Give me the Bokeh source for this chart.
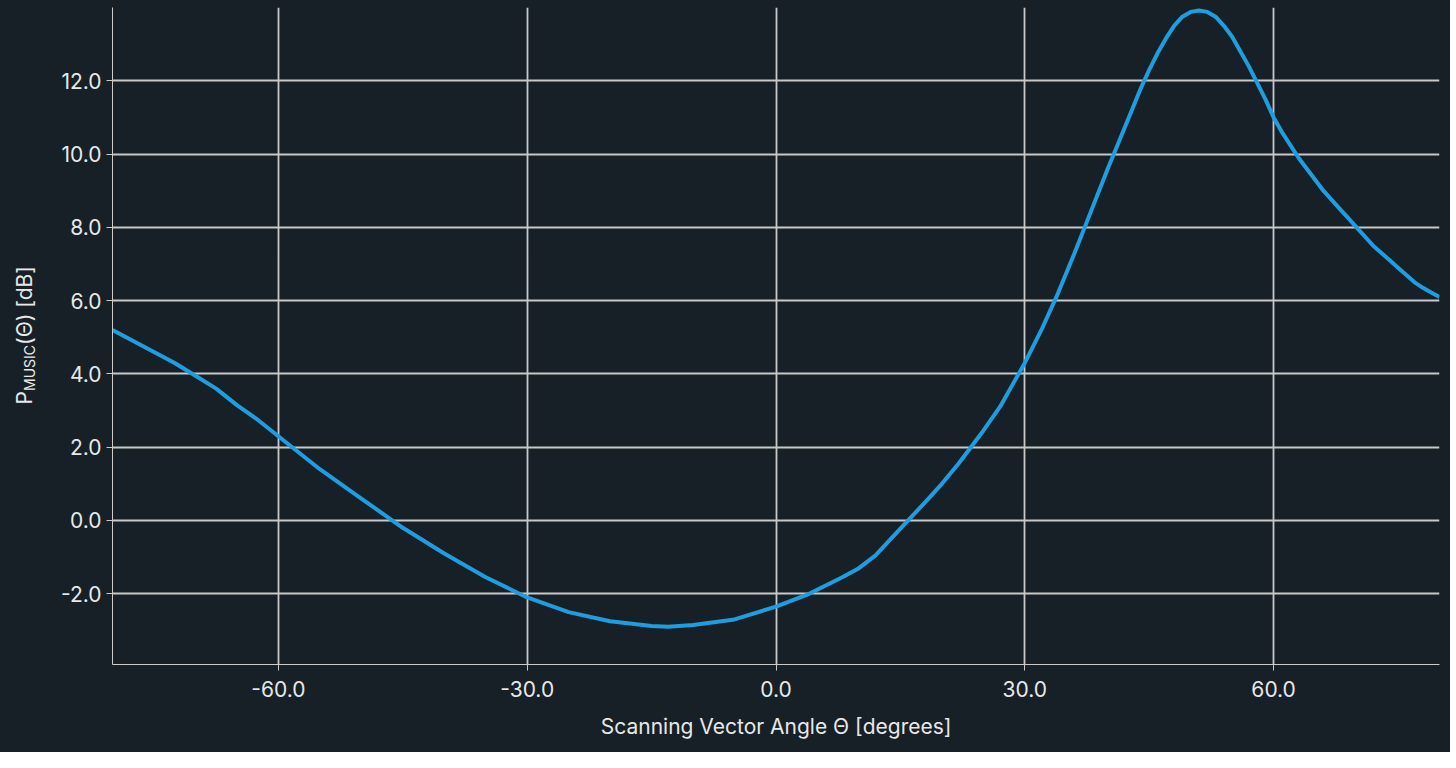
from bokeh.plotting import figure
from bokeh.models import Div, Range1d, FixedTicker
from bokeh.layouts import row
from bokeh.embed import file_html
from bokeh.resources import INLINE

# values
theta = [-80, -77.5, -75, -72.5, -70, -67.5, -65, -62.5, -60, -55, -50, -45, -40, -35, -30,
         -25, -20, -15, -13, -10, -5, 0, 4, 8, 10, 12, 15.5, 18, 20, 22, 25, 27, 30, 32, 34,
         36, 38, 40, 42, 44, 45, 46, 47, 48, 49, 50, 51, 52, 53, 54, 55, 56, 57, 58, 59, 60,
         61, 62, 63, 64, 65, 66, 67, 68, 69, 70, 71, 72, 73, 74, 75, 76, 77, 78, 79, 80]
p_music = [5.2, 4.9, 4.6, 4.3, 3.95, 3.6, 3.15, 2.75, 2.3, 1.4, 0.6, -0.2, -0.9, -1.55, -2.1,
           -2.5, -2.75, -2.88, -2.9, -2.85, -2.7, -2.35, -2.0, -1.55, -1.3, -0.95, -0.1, 0.5,
           1.0, 1.55, 2.45, 3.1, 4.3, 5.2, 6.2, 7.3, 8.45, 9.6, 10.7, 11.8, 12.3, 12.75, 13.15,
           13.5, 13.75, 13.88, 13.92, 13.88, 13.75, 13.5, 13.2, 12.8, 12.4, 11.95, 11.5, 11.0,
           10.6, 10.25, 9.9, 9.6, 9.3, 9.0, 8.75, 8.5, 8.25, 8.0, 7.75, 7.5, 7.3, 7.1, 6.9,
           6.7, 6.5, 6.35, 6.22, 6.1]
x_ticks = [-60, -30, 0, 30, 60]
y_ticks = [-2, 0, 2, 4, 6, 8, 10, 12]

BG = "#172027"
FG = "#e8e8e8"

p = figure(width=1400, height=752, output_backend="svg", toolbar_location=None,
           x_range=Range1d(-80, 80), y_range=Range1d(-3.93, 14.0),
           background_fill_color=BG, border_fill_color=BG,
           min_border_top=7, min_border_right=11, min_border_left=62,
           min_border_bottom=88)
p.outline_line_color = None
p.line(theta, p_music, line_width=4, color="#1e9ee0")

p.xaxis.ticker = FixedTicker(ticks=x_ticks)
p.yaxis.ticker = FixedTicker(ticks=y_ticks)
p.xaxis.major_label_overrides = {t: f"{t:.1f}" for t in x_ticks}
p.yaxis.major_label_overrides = {t: f"{t:.1f}" for t in y_ticks}
p.xaxis.axis_label = "Scanning Vector Angle Θ [degrees]"
for ax in (p.xaxis, p.yaxis):
    ax.axis_line_color = "#cccccc"
    ax.major_tick_line_color = "#cccccc"
    ax.minor_tick_line_color = None
    ax.major_label_text_color = FG
    ax.major_label_text_font = "Inter"
    ax.major_label_text_font_size = "21px"
    ax.axis_label_text_color = FG
    ax.axis_label_text_font = "Inter"
    ax.axis_label_text_font_size = "21px"
    ax.axis_label_text_font_style = "normal"
    ax.major_tick_out = 6
    ax.major_tick_in = 0
p.xaxis.major_label_standoff = 10
p.xaxis.axis_label_standoff = 14
p.grid.grid_line_color = "#c8c8c8"
p.grid.grid_line_width = 1.8

ylabel = Div(
    text='<div style="writing-mode:vertical-rl;transform:rotate(180deg);'
         'font-family:Inter;font-size:21px;color:#e8e8e8;white-space:nowrap;">'
         'P<sub style="font-size:14px">MUSIC</sub>(Θ) [dB]</div>',
    width=40, height=752,
    styles={"background-color": BG, "display": "flex", "align-items": "center",
            "justify-content": "center", "height": "660px"})

layout = row(ylabel, p, styles={"background-color": BG})
open("out.html", "w").write(file_html(layout, INLINE))
